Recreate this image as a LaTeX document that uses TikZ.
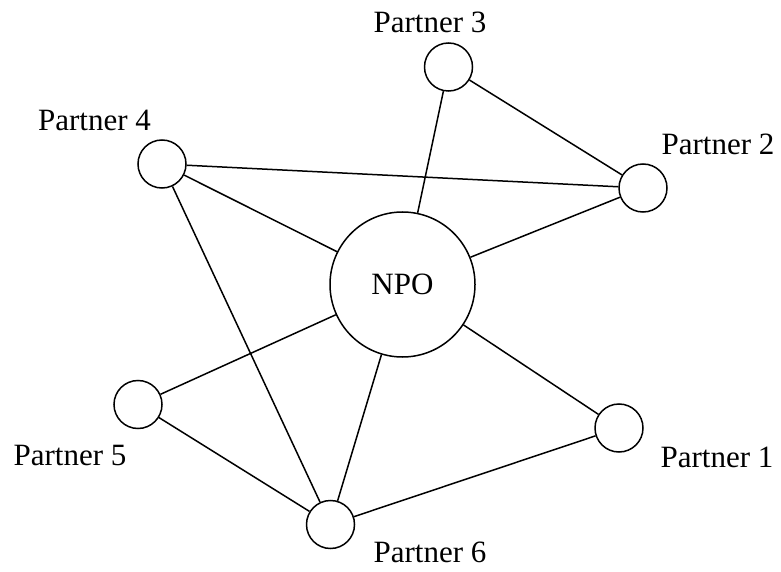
\documentclass[tikz,border=0pt]{standalone}
\usepackage{fontspec}
\setmainfont{Liberation Serif}
\usepackage{tikz}
\usetikzlibrary{positioning}

\begin{document}
\begin{tikzpicture}[x=1bp, y=-1bp, line width=1.5bp,
    partner/.style={draw, circle, inner sep=0pt, minimum size=48bp},
    hub/.style={draw, circle, inner sep=0pt, minimum size=145bp, font=\fontsize{31bp}{36bp}\selectfont},
    plabel/.style={anchor=base, inner sep=0pt, font=\fontsize{31bp}{36bp}\selectfont}]
		  \useasboundingbox (0,0) rectangle (781,572);
		  \node[hub] (npo) at (402.5,284.5) {NPO};
		  \node[partner] (p1) at (619,428) {};
		  \node[partner] (p2) at (643,188) {};
		  \node[partner] (p3) at (448.5,67) {};
		  \node[partner] (p4) at (162,164) {};
		  \node[partner] (p5) at (138,404.5) {};
		  \node[partner] (p6) at (330.5,524.5) {};
		  
		  \node[plabel] (l1) at (717,467) {Partner 1};
		  \node[plabel] (l2) at (718,155) {Partner 2};
		  \node[plabel] (l3) at (430,33) {Partner 3};
		  \node[plabel] (l4) at (94.5,131) {Partner 4};
		  \node[plabel] (l5) at (70,465) {Partner 5};
		  \node[plabel] (l6) at (430,562) {Partner 6};
		  
		  \draw (p3) -- (npo);
		  \draw (p3) -- (p2);
		  \draw (p4) -- (p2);
		  \draw (p4) -- (npo);
		  \draw (p4) -- (p6);
		  \draw (p2) -- (npo);
		  \draw (npo) -- (p5);
		  \draw (npo) -- (p6);
		  \draw (npo) -- (p1);
		  \draw (p5) -- (p6);
		  \draw (p6) -- (p1);
		\end{tikzpicture}
\end{document}
